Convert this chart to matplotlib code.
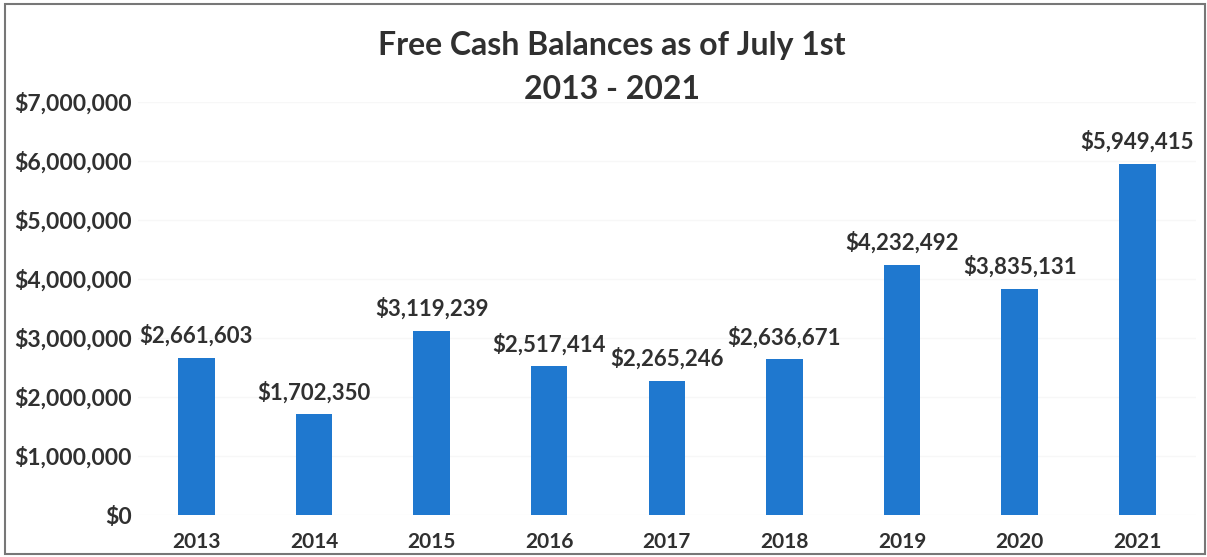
import matplotlib.pyplot as plt
from matplotlib.patches import Rectangle
from matplotlib.ticker import FuncFormatter

plt.rcParams['font.family'] = ['Lato', 'DejaVu Sans']

# data
years = ['2013', '2014', '2015', '2016', '2017', '2018', '2019', '2020', '2021']
balances = [2661603, 1702350, 3119239, 2517414, 2265246, 2636671, 4232492, 3835131, 5949415]

txt_color = '#303030'
bar_color = '#1f78cf'

fig = plt.figure(figsize=(12.07, 5.57), dpi=100)
ax = fig.add_axes([0.114, 0.0754, 0.877, 0.742])

x = range(len(years))
ax.bar(x, balances, width=0.31, color=bar_color, zorder=2)

# value labels above the bars
for xi, v in zip(x, balances):
    ax.annotate(f'${v:,.0f}', (xi, v), xytext=(0, 8), textcoords='offset points',
                ha='center', va='bottom', fontsize=16, fontweight='bold', color=txt_color)

ax.set_xlim(-0.5, len(years) - 0.5)
ax.set_ylim(0, 7000000)
ax.set_yticks(range(0, 7000001, 1000000))
ax.yaxis.set_major_formatter(FuncFormatter(lambda v, p: f'${v:,.0f}'))
ax.set_xticks(list(x))
ax.set_xticklabels(years)
ax.grid(axis='y', color='#f7f7f7', linewidth=1, zorder=0)
for s in ax.spines.values():
    s.set_visible(False)
ax.tick_params(axis='y', length=0, labelsize=16.5, colors=txt_color, pad=4)
ax.tick_params(axis='x', length=0, labelsize=15, colors=txt_color, pad=12)
for lbl in ax.get_xticklabels() + ax.get_yticklabels():
    lbl.set_fontweight('bold')

fig.text(0.507, 0.918, 'Free Cash Balances as of July 1st', ha='center', va='center',
         fontsize=23, fontweight='bold', color=txt_color)
fig.text(0.507, 0.84, '2013 - 2021', ha='center', va='center',
         fontsize=23, fontweight='bold', color=txt_color)

# outer frame of the scanned chart
fig.patches.append(Rectangle((0.004, 0.005), 0.994, 0.988, transform=fig.transFigure,
                             fill=False, edgecolor='#777777', linewidth=1.5))

fig.savefig('out.png', dpi=100)
